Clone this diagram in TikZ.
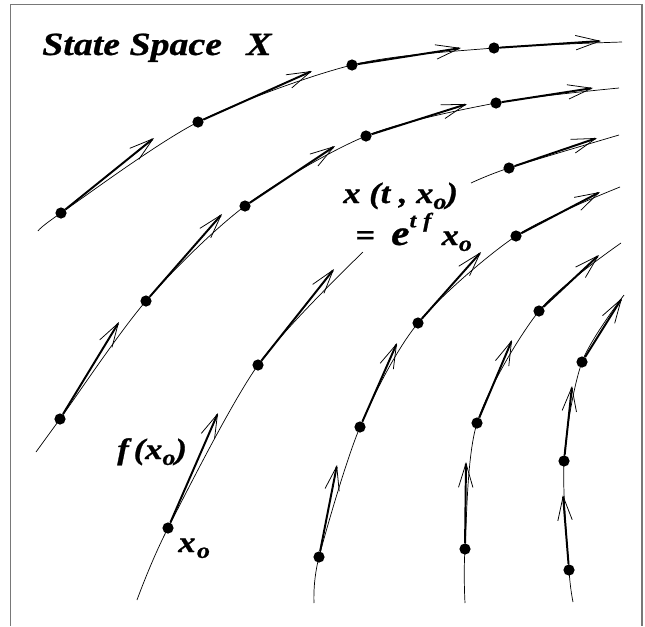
\documentclass[tikz,border=0pt]{standalone}
\usepackage{fontspec}
\newfontfamily\lblfont[FakeStretch=1.17, FakeBold=0.8]{Liberation Serif}
\usetikzlibrary{arrows.meta}
\definecolor{framegray}{RGB}{120,120,120}
\newcommand{\subo}{\raisebox{-0.2em}{\scalebox{0.75}{o}}}

\begin{document}
\begin{tikzpicture}[x=0.025cm, y=-0.025cm,
  traj/.style={line width=0.5pt},
  vec/.style={line width=1.4pt, -{Straight Barb[length=0.6cm, width=0.36cm, line width=0.55pt]}},
  pt/.style={circle, fill, inner sep=0pt, minimum size=0.28cm},
  lbl/.style={font=\lblfont\bfseries\itshape\fontsize{21}{24}\selectfont, inner sep=0pt, anchor=base west},
  head/.style={lbl, font=\lblfont\bfseries\itshape\fontsize{23}{26}\selectfont}
]
\useasboundingbox (0,0) rectangle (645,626);
\draw[framegray, line width=1pt] (10.7,626) -- (10.7,4.3) -- (642,4.3) -- (642,626);

% points on the trajectories
\node[pt] (a1) at (61,213) {}; \node[pt] (a2) at (198,122) {};
\node[pt] (a3) at (352,65) {}; \node[pt] (a4) at (494,48) {};
\node[pt] (b1) at (60,419) {}; \node[pt] (b2) at (146,301) {};
\node[pt] (b3) at (245,206) {}; \node[pt] (b4) at (366,136) {};
\node[pt] (b5) at (496,103) {};
\node[pt] (c1) at (168,528) {}; \node[pt] (c2) at (258,365) {};
\node[pt] (d1) at (509,168) {};
\node[pt] (e1) at (319,557) {}; \node[pt] (e2) at (360,427) {};
\node[pt] (e3) at (418,323) {}; \node[pt] (e4) at (516,236) {};
\node[pt] (f1) at (465,549) {}; \node[pt] (f2) at (477,423) {};
\node[pt] (f3) at (539,311) {};
\node[pt] (g1) at (569,570) {}; \node[pt] (g2) at (564,461) {};
\node[pt] (g3) at (582,362) {};

% trajectories
\draw[traj] plot[smooth] coordinates {(38,231) (a1.center) (a2.center) (a3.center) (a4.center) (622,42)};
\draw[traj] plot[smooth] coordinates {(36,452) (b1.center) (b2.center) (b3.center) (b4.center) (b5.center) (619,88)};
\draw[traj] plot[smooth] coordinates {(137,600) (c1.center) (c2.center) (363,252)};
\draw[traj] plot[smooth] coordinates {(471,183) (d1.center) (619,135)};
\draw[traj] plot[smooth] coordinates {(314,603) (e1.center) (e2.center) (e3.center) (e4.center) (620,187)};
\draw[traj] plot[smooth] coordinates {(465,603) (f1.center) (f2.center) (f3.center) (621,243)};
\draw[traj] plot[smooth] coordinates {(573,602) (g1.center) (g2.center) (g3.center) (624,295)};

% tangent vectors
\coordinate (ta1) at (154,138); \coordinate (ta2) at (312,71);
\coordinate (ta3) at (461,48); \coordinate (ta4) at (601,41);
\coordinate (tb1) at (119,322); \coordinate (tb2) at (222,214);
\coordinate (tb3) at (335,146); \coordinate (tb4) at (467,104);
\coordinate (tb5) at (593,88);
\coordinate (tc1) at (218,413); \coordinate (tc2) at (334,269);
\coordinate (td1) at (597,138);
\coordinate (te1) at (337,465); \coordinate (te2) at (397,343);
\coordinate (te3) at (481,252); \coordinate (te4) at (600,192);
\coordinate (tf1) at (466,462); \coordinate (tf2) at (512,340);
\coordinate (tf3) at (599,255);
\coordinate (tg1) at (563,495); \coordinate (tg2) at (572,386);
\coordinate (tg3) at (622,298);

\draw[vec] (a1) -- (ta1); \draw[vec] (a2) -- (ta2);
\draw[vec] (a3) -- (ta3); \draw[vec] (a4) -- (ta4);
\draw[vec] (b1) -- (tb1); \draw[vec] (b2) -- (tb2);
\draw[vec] (b3) -- (tb3); \draw[vec] (b4) -- (tb4);
\draw[vec] (b5) -- (tb5);
\draw[vec] (c1) -- (tc1); \draw[vec] (c2) -- (tc2);
\draw[vec] (d1) -- (td1);
\draw[vec] (e1) -- (te1); \draw[vec] (e2) -- (te2);
\draw[vec] (e3) -- (te3); \draw[vec] (e4) -- (te4);
\draw[vec] (f1) -- (tf1); \draw[vec] (f2) -- (tf2);
\draw[vec] (f3) -- (tf3);
\draw[vec] (g1) -- (tg1); \draw[vec] (g2) -- (tg2);
\draw[vec] (g3) -- (tg3);

% labels
\node[head] (title) at (42,55) {State Space\hspace{0.75em}X};
\node[lbl] (flow) at (343,203) {x (t , x\subo)};
\node[lbl] (expo) at (355,245) {=\hspace{0.55em}\scalebox{1.2}{e}\raisebox{0.6em}{\scalebox{0.7}{t\,\,f}}\hspace{0.35em}x\subo};
\node[lbl] (fx) at (117,459) {f\,(x\subo)};
\node[lbl] (x0) at (178,552) {x\kern1pt\subo};
\end{tikzpicture}
\end{document}
